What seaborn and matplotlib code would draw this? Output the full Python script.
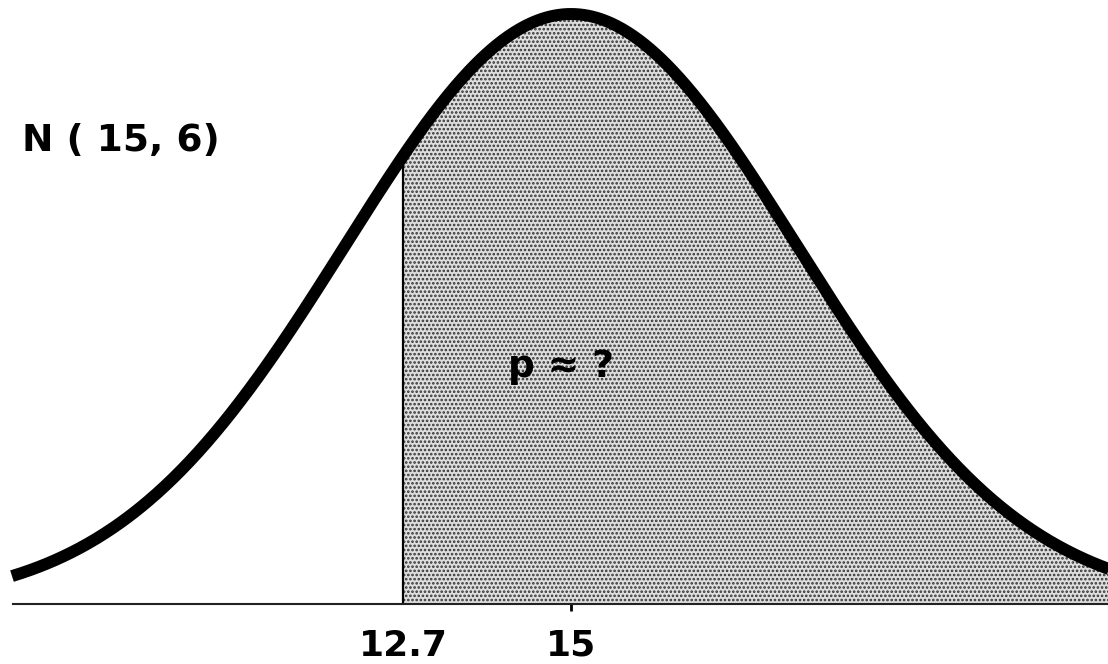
import numpy as np
import pandas as pd
import matplotlib
matplotlib.use("Agg")
import matplotlib.pyplot as plt
import seaborn as sns

# Distribution shown in the label and the cut-off of the shaded tail
label_mean = 15
label_sd = 6
cutoff = 12.7
curve_spread = 3.1          # horizontal spread used to draw the bell shape
tick_values = [12.7, 15]
tick_labels = ["12.7", "15"]
title_text = "N ( 15, 6)"
question_text = "p \u2248 ?"

sns.set_theme(style="white")
plt.rcParams["font.family"] = ["DejaVu Sans"]
plt.rcParams["text.color"] = "black"
plt.rcParams["xtick.color"] = "black"
plt.rcParams["xtick.labelcolor"] = "black"
plt.rcParams["hatch.linewidth"] = 1.25

fig = plt.figure(figsize=(11.08, 6.64), dpi=100)
ax = fig.add_axes([0, 0, 1, 1])

x_lo, x_hi = label_mean - 571 / 73, label_mean + 537 / 73
curve_start = label_mean - 559 / 73


def density(v):
    return np.exp(-0.5 * ((v - label_mean) / curve_spread) ** 2) / (curve_spread * np.sqrt(2 * np.pi))


xs = np.linspace(curve_start, x_hi + 0.2, 800)
df = pd.DataFrame({"x": xs, "y": density(xs)})
peak = density(label_mean)

# shaded tail to the right of the cut-off
tail = df[df["x"] >= cutoff]
xt = np.concatenate([[cutoff], tail["x"].to_numpy()])
ax.fill_between(xt, 0, density(xt), facecolor="#dedede", edgecolor="#333333",
                hatch="....", linewidth=0, zorder=1)
ax.vlines(cutoff, 0, density(cutoff), color="black", linewidth=1.6, zorder=2)

sns.lineplot(data=df, x="x", y="y", ax=ax, color="black", linewidth=8.6,
             solid_capstyle="butt", zorder=3)

ax.set_xlim(x_lo, x_hi)
ax.set_ylim(-peak * 60 / 590, peak + peak * 14 / 590)

for side in ["top", "left", "right"]:
    ax.spines[side].set_visible(False)
ax.spines["bottom"].set_position(("data", 0))
ax.spines["bottom"].set_bounds(curve_start + 0.01, x_hi)
ax.spines["bottom"].set_linewidth(1.5)
ax.spines["bottom"].set_color("#222222")
ax.spines["bottom"].set_zorder(4)

ax.set_xticks(tick_values, tick_labels)
ax.set_yticks([])
ax.tick_params(axis="x", bottom=True, direction="inout", length=10, width=2.0,
               color="black", pad=13, labelsize=26, labelcolor="black")
for lbl in ax.get_xticklabels():
    lbl.set_fontweight("bold")
ax.xaxis.get_major_ticks()[0].tick1line.set_visible(False)
ax.set_xlabel("")
ax.set_ylabel("")

fig.text(22 / 1108, (664 - 151) / 664, title_text, fontsize=27, fontweight="bold",
         va="baseline", ha="left", color="black")
fig.text(508 / 1108, (664 - 377) / 664, question_text, fontsize=27, fontweight="bold",
         va="baseline", ha="left", color="black")

fig.savefig("out.png", dpi=100)
